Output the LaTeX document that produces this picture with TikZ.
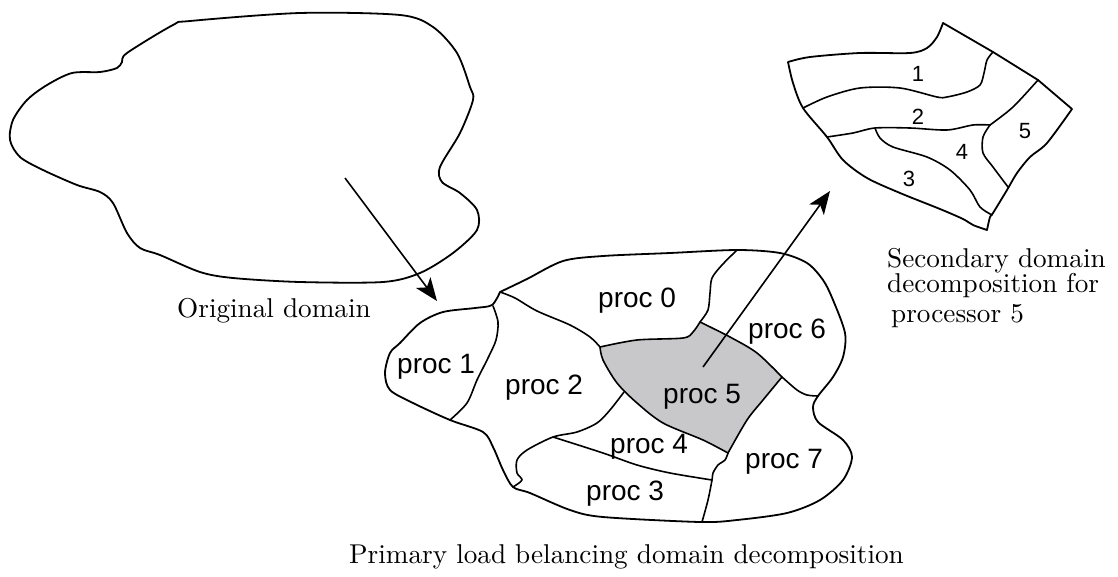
\documentclass[tikz,border=0pt]{standalone}
\usepackage{fontspec}
\newfontfamily\procfont{Liberation Sans}
\newfontfamily\capfont[Extension=.otf]{lmroman10-regular}
\usetikzlibrary{arrows.meta}
\definecolor{procgrey}{RGB}{200,200,202}
\begin{document}
\begin{tikzpicture}[x=1pt,y=-1pt,
  outline/.style={line width=1.8pt, line join=round, line cap=round},
  inner/.style={line width=1.6pt, line join=round, line cap=round},
  connector/.style={line width=1.6pt, -{Stealth[length=23pt,width=18pt,inset=6pt]}},
  proclabel/.style={font=\procfont\fontsize{28}{30}\selectfont, anchor=base west, inner sep=0pt},
  sublabel/.style={font=\procfont\fontsize{22}{24}\selectfont, inner sep=0pt},
  caption/.style={font=\capfont\fontsize{27.2}{30}\selectfont, anchor=base west, inner sep=0pt},
]
\useasboundingbox (0,0) rectangle (1118,576);

% ---------------- Original domain ----------------
\draw[outline] plot[smooth cycle] coordinates {(190,21) (300,13) (400,15) (433,27) (457,53) (470,87) (473,100) (460,133) (440,167) (442,182) (460,193) (477,210) (477,230) (453,253) (420,273) (383,282) (300,282) (233,278) (200,272) (160,255) (140,248) (127,233) (113,203) (100,192) (77,185) (43,170) (20,157) (10,140) (13,120) (27,100) (47,85) (72,73) (100,72) (117,68) (122,62) (127,53) (173,25)};

% ---------------- Primary decomposition ----------------
% proc 5 (grey)
\filldraw[inner, fill=procgrey]
  plot[smooth] coordinates {(600,347) (637,340) (683,338) (693,332) (700,322)}
  -- plot[smooth] coordinates {(700,322) (730,337) (757,353) (782,377)}
  -- plot[smooth] coordinates {(782,377) (763,400) (747,420) (728,453)}
  -- plot[smooth] coordinates {(728,453) (703,440) (663,423) (637,403) (617,383) (603,360) (600,347)} -- cycle;

% outer boundary
\draw[outline] plot[smooth] coordinates {(500,292) (527,279) (563,261) (603,256) (670,253) (737,250) (780,253) (807,263) (823,280) (833,300) (845,333) (843,357) (833,377) (818,396) (813,407) (818,422) (843,440) (852,457) (843,480) (820,500) (787,513) (737,520) (700,522) (603,517) (570,510) (530,493) (513,487) (503,470) (493,447) (483,432) (450,420) (413,403) (390,390) (385,373) (390,353) (400,343) (420,323) (443,312) (475,308) (492,305) (500,292)};

% internal boundaries
\draw[inner] plot[smooth] coordinates {(500,292) (515,298) (537,311) (570,325) (590,337) (600,347)};
\draw[inner] plot[smooth] coordinates {(493,306) (498,322) (496,340) (488,358) (477,380) (467,403) (450,420)};
\draw[inner] plot[smooth] coordinates {(737,250) (722,265) (712,278) (710,293) (708,310) (700,322)};
\draw[inner] plot[smooth] coordinates {(782,377) (797,390) (807,395) (818,396)};
\draw[inner] plot[smooth] coordinates {(624,392) (610,410) (597,423) (577,432) (553,437) (527,450) (517,460) (517,473) (522,480) (513,487)};
\draw[inner] plot[smooth] coordinates {(553,437) (603,453) (637,465) (670,473) (712,480)};
\draw[inner] plot[smooth] coordinates {(728,453) (725,460) (718,465) (713,473) (712,480) (708,500) (702,522)};

% proc labels
\node[proclabel] (p0) at (598,307) {proc 0};
\node[proclabel] (p1) at (397,373) {proc 1};
\node[proclabel] (p2) at (505,394) {proc 2};
\node[proclabel] (p5) at (663,403) {proc 5};
\node[proclabel] (p6) at (748,338) {proc 6};
\node[proclabel] (p4) at (610,453) {proc 4};
\node[proclabel] (p7) at (745,468) {proc 7};
\node[proclabel] (p3) at (586,500) {proc 3};

% ---------------- Secondary decomposition ----------------
\draw[outline]
  plot[smooth] coordinates {(788,62) (810,57) (860,53) (910,53) (927,48) (937,37) (943,23)}
  -- (993,52) -- (1038,80) -- (1072,109)
  -- plot[smooth] coordinates {(1072,109) (1047,143) (1030,157) (1017,173) (1007,190) (993,213) (990,217) (987,230)}
  -- plot[smooth] coordinates {(987,230) (973,225) (963,219) (940,209) (900,193) (867,178) (843,160) (827,137) (803,108) (793,83) (788,62)} -- cycle;
\draw[inner] plot[smooth] coordinates {(803,108) (827,97) (860,88) (900,88) (937,97) (947,97) (967,92) (980,85) (984,73) (987,60) (993,52)};
\draw[inner] plot[smooth] coordinates {(827,137) (853,133) (875,128) (910,128) (947,130) (973,125) (990,125)};
\draw[inner] plot[smooth] coordinates {(1038,80) (1013,107) (990,125)};
\draw[inner] plot[smooth] coordinates {(990,125) (983,137) (983,153) (993,167) (1008,187)};
\draw[inner] plot[smooth] coordinates {(875,128) (880,138) (893,147) (927,157) (950,170) (970,190) (980,207) (992,215)};

\node[sublabel] (s1) at (918,74) {1};
\node[sublabel] (s2) at (918,117) {2};
\node[sublabel] (s5) at (1025,131) {5};
\node[sublabel] (s4) at (962,152) {4};
\node[sublabel] (s3) at (909,179) {3};

% ---------------- Connectors ----------------
\coordinate (a1s) at (345,178);
\coordinate (a1e) at (437,301);
\coordinate (a2s) at (703,367);
\coordinate (a2e) at (830,191);
\draw[connector] (a1s) -- (a1e);
\draw[connector] (a2s) -- (a2e);

% ---------------- Texts ----------------
\node[caption] (orig) at (177,317) {Original domain};
\node[caption] (sec1) at (887,267) {Secondary domain};
\node[caption] (sec2) at (887,292) {decomposition for};
\node[caption] (sec3) at (891,322) {processor 5};
\node[caption] (prim) at (349,563) {Primary load belancing domain decomposition};
\end{tikzpicture}
\end{document}
